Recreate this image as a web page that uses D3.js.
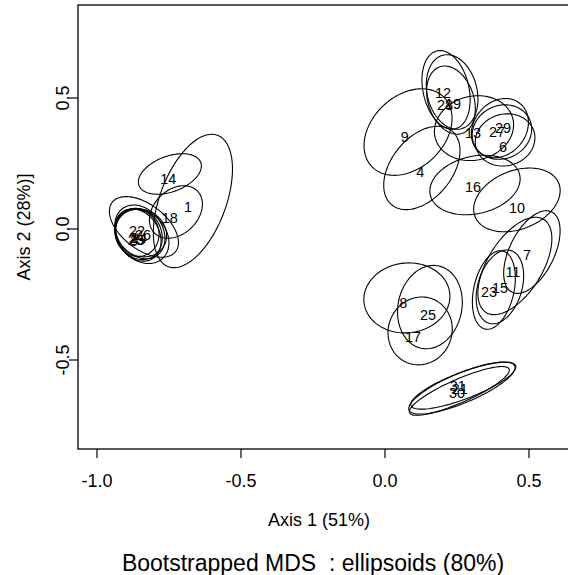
<!DOCTYPE html>
<html>
<head>
<meta charset="utf-8">
<script src="https://cdn.jsdelivr.net/npm/d3@7"></script>
<style>
  body { margin: 0; background: #fff; }
  svg { display: block; }
  text { font-family: "Liberation Sans", Arial, Helvetica, sans-serif; fill: #000; white-space: pre; }
</style>
</head>
<body>
<svg id="chart" width="568" height="575"></svg>
<script>
// Object labels and their MDS coordinates
const labels = ["1","2","3","4","5","6","7","8","9","10","11","12","13","14","15","16",
                "17","18","19","20","21","22","23","24","25","26","27","28","29","30","31"];
const pointX = [-0.684,-0.875,-0.872, 0.122,-0.847, 0.410, 0.493, 0.063, 0.069, 0.458, 0.444, 0.201, 0.306,-0.753, 0.399, 0.306,
                 0.097,-0.747, 0.236,-0.865, 0.260,-0.861, 0.361,-0.854, 0.149,-0.840, 0.389, 0.208, 0.410, 0.250, 0.253];
const pointY = [ 0.084,-0.034,-0.046, 0.218,-0.042, 0.313,-0.099,-0.282, 0.351, 0.080,-0.164, 0.519, 0.366, 0.191,-0.225, 0.160,
                -0.412, 0.042, 0.477,-0.042,-0.611,-0.008,-0.240,-0.034,-0.328,-0.023, 0.370, 0.473, 0.385,-0.626,-0.599];

// Bootstrap confidence ellipses (80%): centre, semi-axes and orientation (degrees)
const ellCx = [-0.667,-0.854,-0.858, 0.128,-0.844, 0.417, 0.510, 0.076, 0.080, 0.458, 0.451, 0.212, 0.309,-0.747, 0.399, 0.3125,
                0.122,-0.726, 0.229,-0.851, 0.272,-0.837, 0.378,-0.847, 0.156,-0.861, 0.399, 0.233, 0.406, 0.267, 0.258];
const ellCy = [ 0.107,-0.019,-0.023, 0.233,-0.027, 0.340,-0.088,-0.263, 0.370, 0.111,-0.141, 0.531, 0.385, 0.210,-0.221, 0.168,
               -0.389, 0.065, 0.492,-0.011,-0.598, 0.008,-0.233,-0.015,-0.298,-0.015, 0.385, 0.523, 0.370,-0.607,-0.618];
const ellA  = [ 0.265, 0.100, 0.104, 0.176, 0.112, 0.106, 0.168, 0.150, 0.183, 0.159, 0.204, 0.152, 0.140, 0.116, 0.144, 0.160,
                0.130, 0.110, 0.133, 0.108, 0.197, 0.145, 0.152, 0.095, 0.160, 0.090, 0.118, 0.144, 0.109, 0.202, 0.192];
const ellB  = [ 0.116, 0.078, 0.075, 0.109, 0.085, 0.097, 0.079, 0.133, 0.131, 0.110, 0.097, 0.080, 0.121, 0.067, 0.077, 0.109,
                0.111, 0.080, 0.080, 0.080, 0.050, 0.082, 0.070, 0.085, 0.111, 0.076, 0.093, 0.087, 0.098, 0.056, 0.044];
const ellAngle = [72,-71,-66, 57,-57, 32, 67, 11, 52, 27, 62,101, 22, 24, 76, 16,
                  80, 53,105,-62, 23,-43, 79,-52, 81,-81, 62,101, 47, 25, 26];

// Axes
const xTicks = [-1.0, -0.5, 0.0, 0.5];
const yTicks = [-0.5, 0.0, 0.5];
const xTickLabels = ["-1.0", "-0.5", "0.0", "0.5"];
const yTickLabels = ["-0.5", "0.0", "0.5"];
const xTitle = "Axis 1 (51%)";
const yTitle = "Axis 2 (28%)]";
const mainTitle = "Bootstrapped MDS  : ellipsoids (80%)";

const svg = d3.select("#chart");
const plot = { left: 78, top: 5, right: 570, bottom: 449 };

const x = d3.scaleLinear().domain([-1.0, 0.5]).range([97, 529]);
const y = d3.scaleLinear().domain([-0.5, 0.5]).range([360, 98]);

svg.append("defs").append("clipPath").attr("id", "plotclip")
  .append("rect")
  .attr("x", plot.left).attr("y", plot.top)
  .attr("width", plot.right - plot.left).attr("height", plot.bottom - plot.top);

const g = svg.append("g").attr("clip-path", "url(#plotclip)");

// Ellipse outlines, traced in data space and projected through the scales
const nSeg = 120;
const ellipseLine = d3.line().x(d => x(d[0])).y(d => y(d[1])).curve(d3.curveLinearClosed);
const ellipses = labels.map((lab, i) => {
  const phi = ellAngle[i] * Math.PI / 180;
  return d3.range(nSeg).map(k => {
    const t = 2 * Math.PI * k / nSeg;
    const u = ellA[i] * Math.cos(t), v = ellB[i] * Math.sin(t);
    return [ellCx[i] + u * Math.cos(phi) - v * Math.sin(phi),
            ellCy[i] + u * Math.sin(phi) + v * Math.cos(phi)];
  });
});

g.selectAll("path.ell").data(ellipses).join("path")
  .attr("class", "ell")
  .attr("d", ellipseLine)
  .attr("fill", "none")
  .attr("stroke", "#000")
  .attr("stroke-width", 1.1);

// Point labels
g.selectAll("text.lab").data(labels).join("text")
  .attr("class", "lab")
  .attr("x", (d, i) => x(pointX[i]))
  .attr("y", (d, i) => y(pointY[i]))
  .attr("text-anchor", "middle")
  .attr("dominant-baseline", "central")
  .attr("font-size", 14.4)
  .attr("fill", "#222")
  .text(d => d);

// Plot frame
svg.append("rect")
  .attr("x", plot.left).attr("y", plot.top)
  .attr("width", plot.right - plot.left).attr("height", plot.bottom - plot.top)
  .attr("fill", "none").attr("stroke", "#000").attr("stroke-width", 1.3);

// X axis
const xAxis = svg.append("g");
xAxis.selectAll("line").data(xTicks).join("line")
  .attr("x1", d => x(d)).attr("x2", d => x(d))
  .attr("y1", plot.bottom).attr("y2", plot.bottom + 9)
  .attr("stroke", "#000").attr("stroke-width", 1.2);
xAxis.selectAll("text").data(xTicks).join("text")
  .attr("x", d => x(d)).attr("y", 487)
  .attr("text-anchor", "middle").attr("font-size", 18)
  .text((d, i) => xTickLabels[i]);

// Y axis
const yAxis = svg.append("g");
yAxis.selectAll("line").data(yTicks).join("line")
  .attr("x1", plot.left).attr("x2", plot.left - 9)
  .attr("y1", d => y(d)).attr("y2", d => y(d))
  .attr("stroke", "#000").attr("stroke-width", 1.2);
yAxis.selectAll("text").data(yTicks).join("text")
  .attr("transform", d => `translate(69,${y(d)}) rotate(-90)`)
  .attr("text-anchor", "middle").attr("font-size", 18)
  .text((d, i) => yTickLabels[i]);

// Titles
svg.append("text").attr("x", 319).attr("y", 526)
  .attr("text-anchor", "middle").attr("font-size", 18).text(xTitle);
svg.append("text").attr("transform", `translate(30,${(plot.top + plot.bottom) / 2}) rotate(-90)`)
  .attr("text-anchor", "middle").attr("font-size", 18).text(yTitle);
svg.append("text").attr("x", 313).attr("y", 571)
  .attr("text-anchor", "middle").attr("font-size", 23).text(mainTitle);
</script>
</body>
</html>
